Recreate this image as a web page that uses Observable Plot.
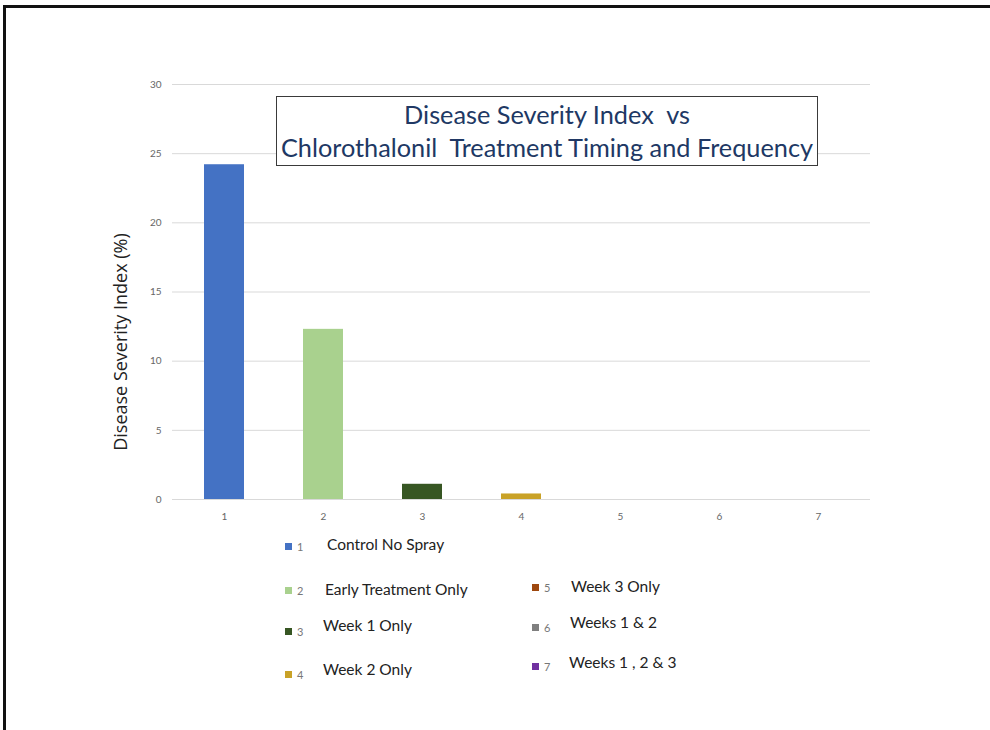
<!DOCTYPE html>
<html>
<head>
<meta charset="utf-8">
<script src="https://cdn.jsdelivr.net/npm/d3@7"></script>
<script src="https://cdn.jsdelivr.net/npm/@observablehq/plot@0.6"></script>
<style>
  html, body { margin: 0; padding: 0; background: #fff; }
  #page { position: relative; width: 990px; height: 730px; overflow: hidden; font-family: Lato, "Open Sans", sans-serif; }
  #frame { position: absolute; left: 3px; top: 5px; width: 1000px; height: 740px; border-top: 3px solid #111; border-left: 3px solid #111; box-sizing: border-box; }
  #chart { position: absolute; left: 0; top: 0; }
  #title { position: absolute; left: 276px; top: 96px; width: 542px; height: 70px; box-sizing: border-box; border: 1.5px solid #3a3a3a; background: #fff;
           color: #203864; font-family: Lato, sans-serif; font-size: 25.3px; line-height: 33px; text-align: center; padding-top: 1px; white-space: pre; }
  #legend { position: absolute; left: 0; top: 0; }
  .item { position: absolute; height: 20px; }
  .sw { position: absolute; left: 0; width: 7px; height: 7px; }
  .num { position: absolute; left: 12px; font-size: 11px; color: #777; line-height: 11px; }
  .lab { position: absolute; font-size: 15.5px; color: #222; white-space: nowrap; line-height: 16px; }
</style>
</head>
<body>
<div id="page">
  <div id="frame"></div>
  <div id="chart"></div>
  <div id="title"></div>
  <div id="legend"></div>
</div>
<script>
const categories = ["1", "2", "3", "4", "5", "6", "7"];
const values = [24.2, 12.3, 1.1, 0.4, 0, 0, 0];
const treatments = ["Control No Spray", "Early Treatment Only", "Week 1 Only", "Week 2 Only", "Week 3 Only", "Weeks 1 & 2", "Weeks 1 , 2 & 3"];
const colors = ["#4472C4", "#A9D18E", "#375623", "#C9A227", "#9E480E", "#7F7F7F", "#7030A0"];
const yTicks = [0, 5, 10, 15, 20, 25, 30];
const titleLines = ["Disease Severity Index  vs", "Chlorothalonil  Treatment Timing and Frequency"];
const yLabel = "Disease Severity Index (%)";

const data = categories.map((c, i) => ({cat: c, value: values[i]}));

const chart = Plot.plot({
  width: 990,
  height: 730,
  marginLeft: 172,
  marginRight: 120,
  marginTop: 84,
  marginBottom: 231,
  style: {fontFamily: "Lato, 'Open Sans', sans-serif", background: "transparent"},
  x: {domain: categories, paddingInner: 0.6, paddingOuter: 0.3},
  y: {domain: [0, 30]},
  color: {domain: categories, range: colors},
  marks: [
    Plot.ruleY(yTicks, {stroke: "#d9d9d9", strokeWidth: 1}),
    Plot.barY(data, {x: "cat", y: "value", fill: "cat"}),
    Plot.axisX({tickSize: 0, tickPadding: 13, fontSize: 10, color: "#666", label: null}),
    Plot.axisY({ticks: yTicks, tickSize: 0, tickPadding: 11, fontSize: 10, color: "#666", label: null}),
    Plot.text([yLabel], {frameAnchor: "left", textAnchor: "middle", rotate: -90, dx: -51, dy: 50, fontSize: 18, fontFamily: "'Open Sans', sans-serif", fill: "#222"})
  ]
});
document.getElementById("chart").appendChild(chart);

document.getElementById("title").textContent = titleLines.join("\n");

// legend layout: [swatch left, swatch top, text left, text center y]
const legendLayout = [
  [285, 543, 327, 545], [285, 587, 325, 590], [285, 628, 323, 626], [285, 671, 323, 670],
  [532, 584, 571, 587], [532, 624, 570, 623], [532, 663, 569, 663]
];
const legend = document.getElementById("legend");
categories.forEach((c, i) => {
  const [sl, st, tl, ty] = legendLayout[i];
  const it = document.createElement("div");
  it.className = "item";
  it.style.left = sl + "px";
  it.style.top = st + "px";
  it.innerHTML = `<span class="sw" style="background:${colors[i]}"></span><span class="num" style="top:-2px">${c}</span><span class="lab" style="left:${tl - sl}px;top:${ty - st - 9}px"></span>`;
  it.querySelector(".lab").textContent = treatments[i];
  legend.appendChild(it);
});
</script>
</body>
</html>
